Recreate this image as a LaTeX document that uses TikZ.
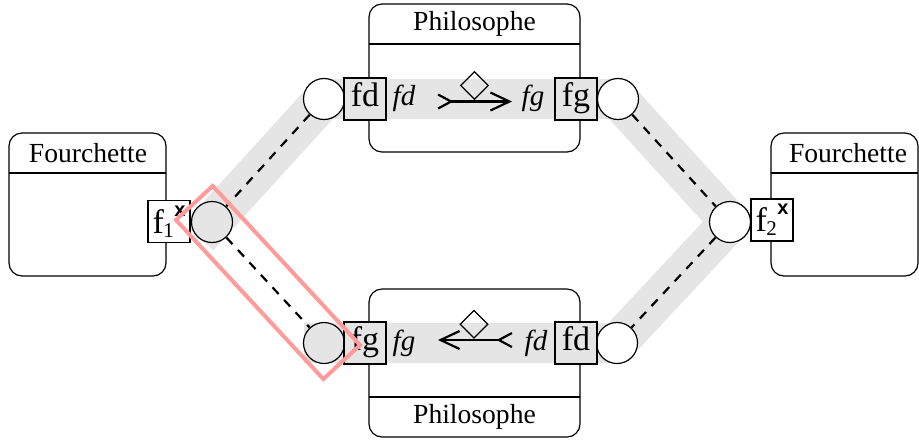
\documentclass[tikz,border=0pt]{standalone}
\usepackage{fontspec}
\setmainfont{Liberation Serif}
\newfontfamily\xsans{Liberation Sans}
\usetikzlibrary{shapes.geometric,arrows.meta,calc}
\definecolor{bandgray}{RGB}{229,229,229}
\definecolor{hlred}{RGB}{255,155,155}
\begin{document}
\begin{tikzpicture}[x=0.5pt,y=-0.5pt,
  box/.style={draw, line width=0.6pt, rounded corners=6.5pt},
  sep/.style={draw, line width=0.6pt},
  port/.style={draw, line width=0.6pt, fill=bandgray, minimum size=21pt, inner sep=0pt,
    text height=11.7pt, text depth=4pt, font=\fontsize{17}{17}\selectfont},
  fport/.style={draw, line width=0.6pt, fill=white, minimum size=21pt, inner sep=0pt,
    font=\fontsize{17}{17}\selectfont},
  ring/.style={draw, circle, line width=0.6pt, fill=white, minimum size=20.5pt, inner sep=0pt},
  selring/.style={ring, fill=bandgray},
  band/.style={line width=20pt, draw=bandgray, line cap=rect, line join=round},
  link/.style={line width=1.1pt, dash pattern=on 4.5pt off 4pt},
  lbl/.style={font=\itshape\fontsize{14.5}{14.5}\selectfont, inner sep=0pt, anchor=base},
  title/.style={font=\fontsize{13.8}{16}\selectfont, inner sep=0pt},
  flow/.style={line width=1.1pt, {Straight Barb[reversed,length=6.5pt,width=7pt]}-{Straight Barb[length=9.5pt,width=9pt]}},
  gate/.style={draw, diamond, line width=0.6pt, minimum size=14pt, inner sep=0pt, aspect=1},
  hl/.style={draw=hlred, line width=2pt}
]
\useasboundingbox (0,0) rectangle (919,441);

% containers
\draw[box] (369,4) rectangle (580,152);
\draw[sep] (369,44) -- (580,44);
\node[title] (ph1) at (474.5,24) {Philosophe};
\draw[box] (369,289) rectangle (580,437);
\draw[sep] (369,397) -- (580,397);
\node[title] (ph2) at (474.5,417) {Philosophe};
\draw[box] (9,133) rectangle (166,276);
\draw[sep] (9,173) -- (166,173);
\node[title] (fo1) at (88,153) {Fourchette};
\draw[box] (771,133) rectangle (918,276);
\draw[sep] (771,173) -- (918,173);
\node[title] (fo2) at (848,153) {Fourchette};

% circle positions
\coordinate (pTL) at (324,99);
\coordinate (pTR) at (618,99);
\coordinate (pR) at (730,222);
\coordinate (pBR) at (617,343);
\coordinate (pBL) at (324,343);
\coordinate (pL) at (212,222);

% band
\draw[band] (pBL) -- (pBR) -- (pR) -- (pTR) -- (pTL) -- (pL);

% circles
\node[ring] (cTL) at (pTL) {};
\node[ring] (cTR) at (pTR) {};
\node[ring] (cR) at (pR) {};
\node[ring] (cBR) at (pBR) {};
\node[selring] (cBL) at (pBL) {};
\node[selring] (cL) at (pL) {};

% dashed links
\draw[link] (cTL) -- (cL);
\draw[link] (cL) -- (cBL);
\draw[link] (cTR) -- (cR);
\draw[link] (cR) -- (cBR);

% ports
\node[port] (pfd1) at (365,99) {fd};
\node[port] (pfg1) at (576,99) {fg};
\node[port] (pfg2) at (365,343) {fg};
\node[port] (pfd2) at (576,343) {fd};
\node[fport] (f1) at (169,221.5) {f\kern-0.3pt\raisebox{-2pt}{\fontsize{10.5}{10.5}\selectfont 1}\kern0.2pt\raisebox{8.5pt}{\xsans\bfseries\fontsize{10}{10}\selectfont x}};
\node[fport] (f2) at (772,220) {f\kern-0.3pt\raisebox{-2pt}{\fontsize{10.5}{10.5}\selectfont 2}\kern0.2pt\raisebox{8.5pt}{\xsans\bfseries\fontsize{10}{10}\selectfont x}};

% italic labels
\node[lbl] (lfd1) at (404,105) {fd};
\node[lbl] (lfg1) at (533,105) {fg};
\node[lbl] (lfg2) at (404,350.5) {fg};
\node[lbl] (lfd2) at (536,350.5) {fd};

% arrows
\coordinate (a1s) at (437,101.5);
\coordinate (a1e) at (512,101.5);
\coordinate (a2s) at (513,340);
\coordinate (a2e) at (438,340);
\draw[flow] (a1s) -- (a1e);
\draw[flow] (a2s) -- (a2e);
\node[gate] (d1) at (474.5,85.5) {};
\node[gate] (d2) at (474,324.3) {};

% highlight
\coordinate (e1) at ($(pL)!-13pt!(pBL)$);
\coordinate (e2) at ($(pBL)!-13pt!(pL)$);
\draw[hl] ($(e1)!12.5pt!90:(e2)$) -- ($(e2)!12.5pt!-90:(e1)$) -- ($(e2)!12.5pt!90:(e1)$) -- ($(e1)!12.5pt!-90:(e2)$) -- cycle;
\end{tikzpicture}
\end{document}
